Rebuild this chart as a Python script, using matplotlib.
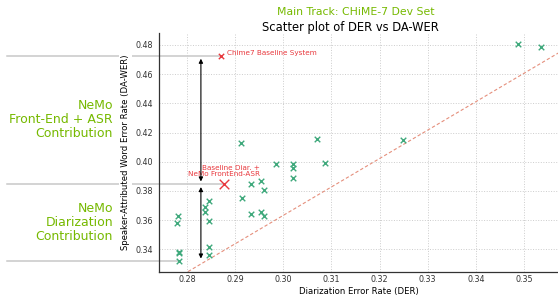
import matplotlib
matplotlib.use("Agg")
import matplotlib.pyplot as plt

# NeMo systems (DER, DA-WER)
nemo_der = [0.2984, 0.3019, 0.3019, 0.3019, 0.3087, 0.2932, 0.2954, 0.2959,
            0.2913, 0.2845, 0.2837, 0.2837, 0.2845, 0.2781, 0.2779, 0.2932,
            0.2954, 0.2959, 0.2783, 0.2783, 0.2783, 0.2845, 0.2845, 0.2912,
            0.3069, 0.3488, 0.3535, 0.3249]
nemo_wer = [0.3982, 0.3986, 0.3959, 0.3891, 0.3995, 0.3846, 0.3868, 0.3807,
            0.3754, 0.3729, 0.3688, 0.3654, 0.3595, 0.3629, 0.3583, 0.3642,
            0.3658, 0.3631, 0.3382, 0.3373, 0.3318, 0.3414, 0.3360, 0.4127,
            0.4158, 0.4807, 0.4784, 0.4149]

baseline_der, baseline_wer = 0.2871, 0.4725
frontend_der, frontend_wer = 0.2876, 0.3846

ref_x = [0.27, 0.36]
ref_y = [0.305, 0.48]

x_ticks = [0.28, 0.29, 0.30, 0.31, 0.32, 0.33, 0.34, 0.35]
y_ticks = [0.34, 0.36, 0.38, 0.40, 0.42, 0.44, 0.46, 0.48]

green = "#76b900"
red = "#e8383d"
W, H = 558, 296

fig = plt.figure(figsize=(W / 100, H / 100), dpi=100)
ax = fig.add_axes([159.3 / W, 24 / H, 1 - 159.3 / W, 239 / H])
ax.set_xlim(0.2742, 0.3571)
ax.set_ylim(0.3245, 0.4882)
ax.set_axisbelow("line")

ax.scatter(nemo_der, nemo_wer, marker="x", s=16, color="#3fa97c", linewidths=1.0, zorder=3)
ax.scatter([baseline_der], [baseline_wer], marker="x", s=15, color=red, linewidths=1.0, zorder=3)
ax.scatter([frontend_der], [frontend_wer], marker="x", s=48, color=red, linewidths=1.0, zorder=3)
ax.plot(ref_x, ref_y, ls="--", color="#e58f7c", lw=0.8, dashes=(3, 2))

ax.annotate("Chime7 Baseline System", (baseline_der, baseline_wer), xytext=(4, 2.4),
            textcoords="offset points", color=red, fontsize=5.2, va="center")
ax.annotate("Baseline Diar. +\nNeMo FrontEnd-ASR", (frontend_der, frontend_wer), xytext=(26, 5),
            textcoords="offset points", color=red, fontsize=5.2, ha="right", va="bottom",
            linespacing=1.0)

# guide lines reaching out to the left margin
x_left = ax.transData.inverted().transform(fig.transFigure.transform((7 / W, 0)))[0]
best = min(range(len(nemo_wer)), key=lambda i: nemo_wer[i])
for px, py in [(baseline_der, baseline_wer), (frontend_der, frontend_wer),
               (nemo_der[best], nemo_wer[best])]:
    ax.plot([x_left, px], [py, py], color="#c8c8c8", lw=1.1, clip_on=False, zorder=1)

arrow_x = 0.28285
arrow = dict(arrowstyle="<|-|>", color="black", lw=0.8, mutation_scale=6)
ax.annotate("", xy=(arrow_x, baseline_wer), xytext=(arrow_x, frontend_wer), arrowprops=arrow)
ax.annotate("", xy=(arrow_x, frontend_wer), xytext=(arrow_x, nemo_wer[best]), arrowprops=arrow)

ax.set_xticks(x_ticks)
ax.set_yticks(y_ticks)
ax.set_xticklabels([f"{v:.2f}" for v in x_ticks])
ax.set_yticklabels([f"{v:.2f}" for v in y_ticks])
ax.tick_params(length=0, labelsize=5.8, colors="#333333")
ax.tick_params(axis="x", pad=2.5)
ax.tick_params(axis="y", pad=4.5)
ax.grid(True, ls=":", color="#cccccc", lw=0.7)
for s in ["top", "right"]:
    ax.spines[s].set_visible(False)
for s in ["left", "bottom"]:
    ax.spines[s].set_color("#333333")
    ax.spines[s].set_linewidth(0.9)

ax.set_xlabel("Diarization Error Rate (DER)", fontsize=6.1, labelpad=2)
ax.set_ylabel("Speaker-Attributed Word Error Rate (DA-WER)", fontsize=6.1, labelpad=4)
ax.yaxis.label.set_bbox(dict(facecolor="white", edgecolor="none", pad=1.5))

fig.text(356 / W, 1 - 11.7 / H, "Main Track: CHiME-7 Dev Set", fontsize=7.8, color=green,
         ha="center", va="center")
fig.text(350 / W, 1 - 27.7 / H, "Scatter plot of DER vs DA-WER", fontsize=8.3,
         ha="center", va="center")
fig.text(113 / W, 1 - 119.3 / H, "NeMo\nFront-End + ASR\nContribution", fontsize=9,
         color=green, ha="right", va="center", linespacing=1.1)
fig.text(113 / W, 1 - 222.3 / H, "NeMo\nDiarization\nContribution", fontsize=9,
         color=green, ha="right", va="center", linespacing=1.1)

fig.savefig("out.png", dpi=100)
